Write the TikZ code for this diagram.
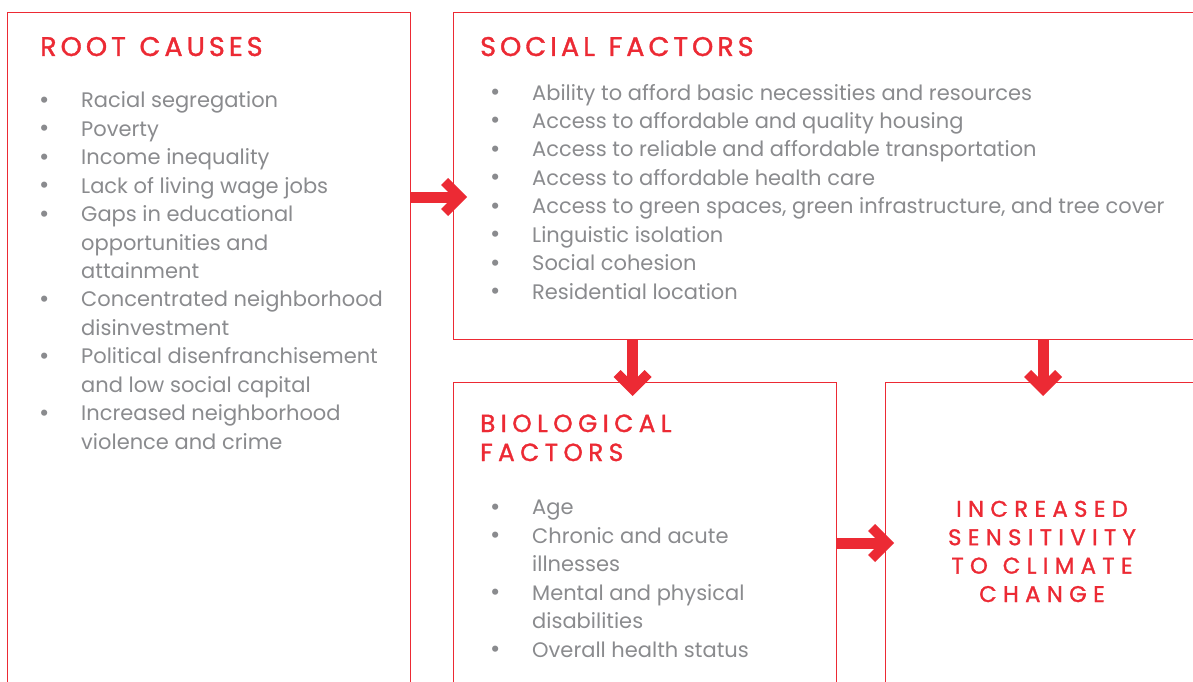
\documentclass[tikz,border=0pt]{standalone}
\usepackage{fontspec}
\setmainfont{Poppins}
\newfontfamily\ttlfontA[LetterSpace=15,FakeBold=1.3]{Poppins}
\newfontfamily\ttlfontB[LetterSpace=22,FakeBold=1.3]{Poppins}
\newfontfamily\ttlfontC[LetterSpace=28,FakeBold=1.3]{Poppins}
\usetikzlibrary{calc}
\definecolor{cred}{HTML}{EC2A34}
\definecolor{cgray}{HTML}{8A8B8E}
\newcommand\bl{\makebox[42pt][l]{{\fontsize{25}{25}\selectfont\raisebox{-0.5pt}{•}}}}
\newcommand\cn{\hspace*{42pt}}
\newcommand\wsp{\hspace{2.5pt}}
\begin{document}
\begin{tikzpicture}[x=1pt,y=-1pt,
  box/.style={draw=cred,line width=0.9pt,anchor=north west,inner sep=0pt,outer sep=0pt},
  title/.style={text=cred,inner sep=0pt,font=\ttlfontA\fontsize{27}{28.5}\selectfont},
  list/.style={text=cgray,inner sep=0pt,align=left,anchor=base west,font=\fontsize{21}{28.42}\selectfont},
  shaft/.style={draw=cred,line width=11pt},
  chev/.pic={\fill[cred] (0,0)--(-19,-19)--(-26,-12)--(-14,0)--(-26,12)--(-19,19)--cycle;}]
\useasboundingbox (0,0) rectangle (1193,682);
\clip (0,0) rectangle (1193,682);
\fill[white] (0,0) rectangle (1193,682);
% boxes
\node[box,minimum width=403pt,minimum height=700pt] (root) at (7,12) {};
\node[box,minimum width=800pt,minimum height=327pt] (social) at (453,12) {};
\node[box,minimum width=383pt,minimum height=400pt] (bio) at (453,382) {};
\node[box,minimum width=400pt,minimum height=400pt] (inc) at (885,382) {};
% titles
\node[title,anchor=base west] (t1) at (40,56) {ROOT\wsp{} CAUSES};
\node[title,anchor=base west] (t2) at (480,56) {SOCIAL\wsp{} FACTORS};
\node[title,anchor=base west,align=left,font=\ttlfontB\fontsize{24.7}{29}\selectfont] (t3) at (480,461) {BIOLOGICAL\\FACTORS};
\node[title,anchor=base,align=center,font=\ttlfontC\fontsize{22.7}{28.4}\selectfont] (t4) at (1042,602) {INCREASED\\SENSITIVITY\\TO\wsp{} CLIMATE\\CHANGE};
% lists
\node[list] (l1) at (39,449) {\bl Racial segregation\\ \bl Poverty\\ \bl Income inequality\\ \bl Lack of living wage jobs\\ \bl Gaps in educational\\ \cn opportunities and\\ \cn attainment\\ \bl Concentrated neighborhood\\ \cn disinvestment\\ \bl Political disenfranchisement\\ \cn and low social capital\\ \bl Increased neighborhood\\ \cn violence and crime};
\node[list] (l2) at (490,299) {\bl Ability to afford basic necessities and resources\\ \bl Access to affordable and quality housing\\ \bl Access to reliable and affordable transportation\\ \bl Access to affordable health care\\ \bl Access to green spaces, green infrastructure, and tree cover\\ \bl Linguistic isolation\\ \bl Social cohesion\\ \bl Residential location};
\node[list] (l3) at (490,657) {\bl Age\\ \bl Chronic and acute\\ \cn illnesses\\ \bl Mental and physical\\ \cn disabilities\\ \bl Overall health status};
% arrows
\coordinate (y1) at (0,197);
\coordinate (x2) at (632.5,0);
\coordinate (x3) at (1043,0);
\coordinate (y4) at (0,543);
\draw[shaft,shorten >=10pt] (root.east |- y1) -- ($(social.west |- y1)+(14,0)$);
\pic at ($(social.west |- y1)+(14,0)$) {chev};
\draw[shaft,shorten >=10pt] (social.south -| x2) -- ($(bio.north -| x2)+(0,14)$);
\pic[rotate=-90] at ($(bio.north -| x2)+(0,14)$) {chev};
\draw[shaft,shorten >=10pt] (social.south -| x3) -- ($(inc.north -| x3)+(0,14)$);
\pic[rotate=-90] at ($(inc.north -| x3)+(0,14)$) {chev};
\draw[shaft,shorten >=10pt] (bio.east |- y4) -- ($(inc.west |- y4)+(9,0)$);
\pic at ($(inc.west |- y4)+(9,0)$) {chev};
\end{tikzpicture}
\end{document}
